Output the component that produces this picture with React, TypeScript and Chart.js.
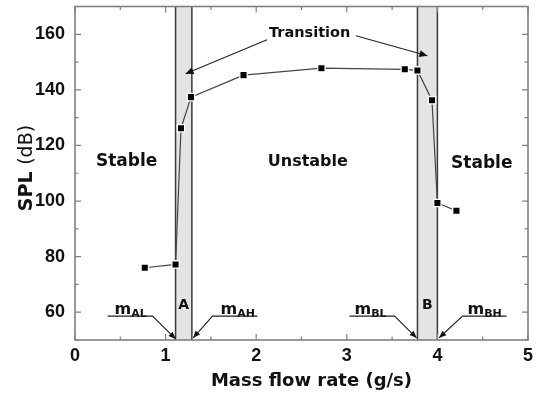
import React, { useEffect, useRef } from "react";
import { Chart, registerables } from "chart.js";

Chart.register(...registerables);

// ---- data ----
const massFlow = [0.77, 1.11, 1.17, 1.28, 1.86, 2.72, 3.64, 3.78, 3.94, 4.0, 4.21];
const spl = [76, 77.2, 126.2, 137.4, 145.3, 147.8, 147.4, 147.0, 136.3, 99.3, 96.5];
const xTicks = [0, 1, 2, 3, 4, 5];
const yTicks = [60, 80, 100, 120, 140, 160];
const bandA = [1.11, 1.29];
const bandB = [3.78, 4.0];

const LABEL_FONT = "'DejaVu Sans', sans-serif";
const TICK_FONT = "'Liberation Sans', Arial, sans-serif";

function arrowHead(ctx: CanvasRenderingContext2D, fx: number, fy: number, tx: number, ty: number, len = 7, half = 3) {
  const a = Math.atan2(ty - fy, tx - fx);
  ctx.beginPath();
  ctx.moveTo(tx, ty);
  ctx.lineTo(tx - len * Math.cos(a) + half * Math.sin(a), ty - len * Math.sin(a) - half * Math.cos(a));
  ctx.lineTo(tx - len * Math.cos(a) - half * Math.sin(a), ty - len * Math.sin(a) + half * Math.cos(a));
  ctx.closePath();
  ctx.fill();
}

const decorPlugin = {
  id: "decor",
  beforeDatasetsDraw(chart: any) {
    const { ctx, chartArea } = chart;
    const xs = chart.scales.x;
    [bandA, bandB].forEach((b) => {
      const l = xs.getPixelForValue(b[0]);
      const r = xs.getPixelForValue(b[1]);
      ctx.save();
      ctx.fillStyle = "#e4e4e4";
      ctx.fillRect(l, chartArea.top, r - l, chartArea.bottom - chartArea.top);
      ctx.strokeStyle = "#3a3a3a";
      ctx.lineWidth = 1.5;
      ctx.beginPath();
      ctx.moveTo(l, chartArea.top);
      ctx.lineTo(l, chartArea.bottom);
      ctx.moveTo(r, chartArea.top);
      ctx.lineTo(r, chartArea.bottom);
      ctx.stroke();
      ctx.restore();
    });
  },
  afterDatasetsDraw(chart: any) {
    const { ctx, chartArea } = chart;
    const xs = chart.scales.x;
    const ys = chart.scales.y;
    const X = (v: number) => xs.getPixelForValue(v);
    const Y = (v: number) => ys.getPixelForValue(v);
    const { left, right, top, bottom } = chartArea;

    ctx.save();
    // frame
    ctx.strokeStyle = "#808080";
    ctx.lineWidth = 1.6;
    ctx.strokeRect(left, top, right - left, bottom - top);
    // inward ticks
    ctx.lineWidth = 1.2;
    ctx.beginPath();
    for (let v = 0; v <= 5.0001; v += 0.5) {
      const px = X(v);
      const len = Math.abs(v - Math.round(v)) < 1e-6 ? 6 : 3.5;
      ctx.moveTo(px, bottom);
      ctx.lineTo(px, bottom - len);
      ctx.moveTo(px, top);
      ctx.lineTo(px, top + len);
    }
    for (let v = 50; v <= 170.0001; v += 10) {
      const py = Y(v);
      const len = v % 20 === 0 ? 6 : 3.5;
      ctx.moveTo(left, py);
      ctx.lineTo(left + len, py);
      ctx.moveTo(right, py);
      ctx.lineTo(right - len, py);
    }
    ctx.stroke();

    // region labels
    ctx.fillStyle = "#111";
    ctx.textAlign = "center";
    ctx.textBaseline = "middle";
    ctx.font = `bold 17px ${LABEL_FONT}`;
    ctx.fillText("Stable", X(0.57), Y(114.2));
    ctx.fillText("Stable", X(4.49), Y(113.5));
    ctx.font = `bold 16px ${LABEL_FONT}`;
    ctx.fillText("Unstable", X(2.57), Y(114.2));
    ctx.font = `bold 14.5px ${LABEL_FONT}`;
    ctx.fillText("Transition", X(2.59), Y(160.3));
    ctx.font = `bold 14px ${LABEL_FONT}`;
    ctx.fillText("A", X(1.2), Y(62.5));
    ctx.fillText("B", X(3.89), Y(62.5));

    // transition arrows
    ctx.strokeStyle = "#222";
    ctx.fillStyle = "#111";
    ctx.lineWidth = 1.1;
    const arrows = [
      [2.12, 158.0, 1.22, 145.8],
      [3.1, 159.5, 3.89, 152.3],
    ];
    arrows.forEach(([fx, fy, tx, ty]) => {
      ctx.beginPath();
      ctx.moveTo(X(fx), Y(fy));
      ctx.lineTo(X(tx), Y(ty));
      ctx.stroke();
      arrowHead(ctx, X(fx), Y(fy), X(tx), Y(ty), 8, 3.5);
    });

    // m labels with leader lines
    const mLabels: [string, number, number, number, number, number][] = [
      // sub, textLeft, farEnd, joint, tipX, tipY
      ["AL", 0.436, 0.36, 0.856, 1.11, 50.4],
      ["AH", 1.606, 2.014, 1.518, 1.305, 50.8],
      ["BL", 3.085, 3.03, 3.527, 3.77, 50.8],
      ["BH", 4.332, 4.763, 4.277, 4.02, 50.8],
    ];
    const lineY = 58.6;
    const baseY = Y(59.4);
    mLabels.forEach(([sub, tl, far, joint, tx, ty]) => {
      ctx.textAlign = "left";
      ctx.textBaseline = "alphabetic";
      ctx.font = `bold 16px ${LABEL_FONT}`;
      ctx.fillText("m", X(tl), baseY);
      const w = ctx.measureText("m").width;
      ctx.font = `bold 11px ${LABEL_FONT}`;
      ctx.fillText(sub, X(tl) + w, baseY + 3);
      ctx.beginPath();
      ctx.moveTo(X(far), Y(lineY));
      ctx.lineTo(X(joint), Y(lineY));
      ctx.lineTo(X(tx), Y(ty));
      ctx.stroke();
      arrowHead(ctx, X(joint), Y(lineY), X(tx), Y(ty), 7, 3);
    });

    // axis titles
    ctx.fillStyle = "#111";
    ctx.textAlign = "center";
    ctx.textBaseline = "alphabetic";
    ctx.font = `bold 18px ${LABEL_FONT}`;
    ctx.fillText("Mass flow rate (g/s)", (left + right) / 2 + 10, 386);

    ctx.save();
    ctx.translate(32, 168);
    ctx.rotate(-Math.PI / 2);
    ctx.textAlign = "left";
    const boldPart = "SPL ";
    const normPart = "(dB)";
    ctx.font = `bold 19px ${LABEL_FONT}`;
    const wb = ctx.measureText(boldPart).width;
    ctx.font = `19px ${LABEL_FONT}`;
    const wn = ctx.measureText(normPart).width;
    const start = -(wb + wn) / 2;
    ctx.font = `bold 19px ${LABEL_FONT}`;
    ctx.fillText(boldPart, start, 0);
    ctx.font = `19px ${LABEL_FONT}`;
    ctx.fillText(normPart, start + wb, 0);
    ctx.restore();

    ctx.restore();
  },
};

const zeroPad = (s: any) => {
  s.paddingTop = 0;
  s.paddingBottom = 0;
  s.paddingLeft = 0;
  s.paddingRight = 0;
};

export default function App() {
  const ref = useRef<HTMLCanvasElement | null>(null);
  useEffect(() => {
    if (!ref.current) return;
    const chart = new Chart(ref.current, {
      type: "scatter",
      data: {
        datasets: [
          {
            data: massFlow.map((x, i) => ({ x, y: spl[i] })),
            showLine: true,
            borderColor: "#444",
            borderWidth: 1.2,
            pointStyle: "rect",
            pointRadius: 5.2,
            pointBackgroundColor: "#000",
            pointBorderColor: "#fff",
            pointBorderWidth: 1.3,
            tension: 0,
          },
        ],
      },
      options: {
        animation: false,
        responsive: false,
        devicePixelRatio: 1,
        layout: { padding: { left: 0, top: 6, right: 8, bottom: 0 } },
        plugins: { legend: { display: false }, tooltip: { enabled: false } },
        scales: {
          x: {
            type: "linear",
            min: 0,
            max: 5,
            afterBuildTicks: (s: any) => {
              s.ticks = xTicks.map((v) => ({ value: v }));
            },
            afterFit: (s: any) => {
              s.height = 56;
              zeroPad(s);
            },
            grid: { display: false, drawTicks: false },
            border: { display: false },
            ticks: {
              padding: 5,
              color: "#111",
              font: { family: TICK_FONT, size: 18, weight: "bold" },
              maxRotation: 0,
            },
          },
          y: {
            type: "linear",
            min: 50,
            max: 170,
            afterBuildTicks: (s: any) => {
              s.ticks = yTicks.map((v) => ({ value: v }));
            },
            afterFit: (s: any) => {
              s.width = 75;
              zeroPad(s);
            },
            grid: { display: false, drawTicks: false },
            border: { display: false },
            ticks: {
              padding: 10,
              color: "#111",
              font: { family: TICK_FONT, size: 18, weight: "bold" },
            },
          },
        },
      },
      plugins: [decorPlugin],
    } as any);
    return () => chart.destroy();
  }, []);
  return (
    <div style={{ position: "fixed", left: 0, top: 0, width: 536, height: 396, background: "#fff" }}>
      <canvas ref={ref} width={536} height={396} />
    </div>
  );
}
